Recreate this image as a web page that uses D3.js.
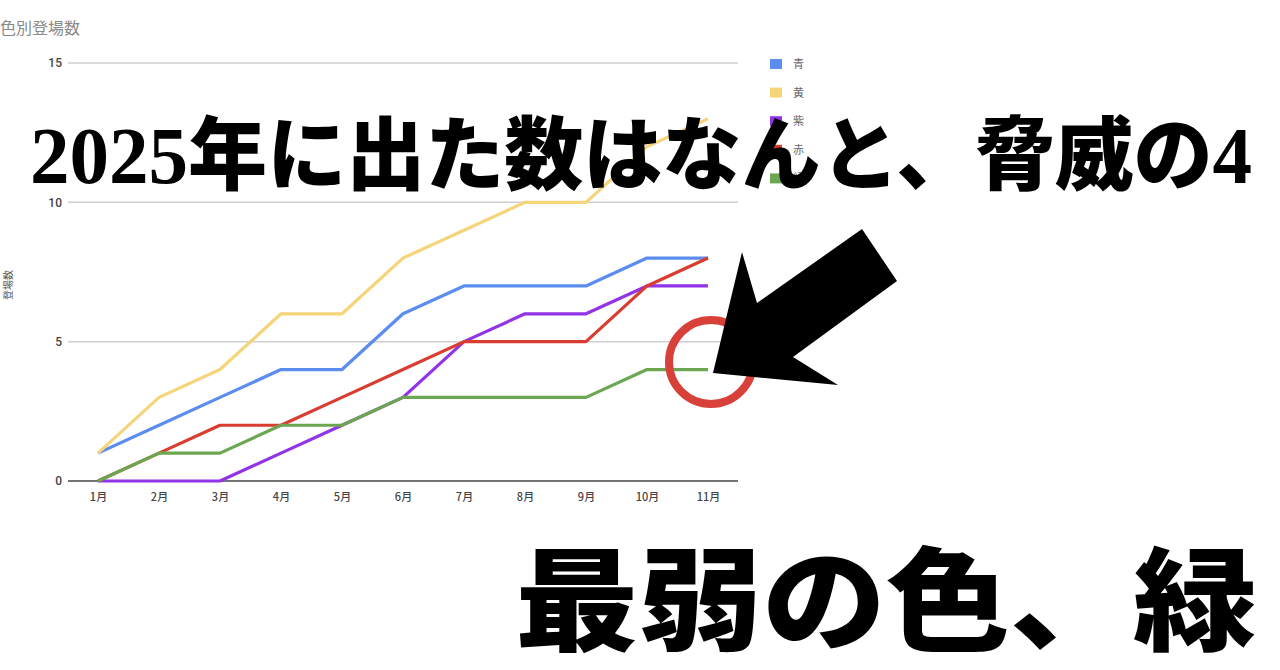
<!DOCTYPE html>
<html>
<head>
<meta charset="utf-8">
<script src="https://cdn.jsdelivr.net/npm/d3@7"></script>
<style>
  html, body { margin: 0; padding: 0; background: #fff; }
  svg { display: block; }
</style>
</head>
<body>
<svg id="chart"></svg>
<script>
const months = ["1月", "2月", "3月", "4月", "5月", "6月", "7月", "8月", "9月", "10月", "11月"];
const seriesNames = ["青", "黄", "紫", "赤", "緑"];
const seriesColors = ["#5b8def", "#f5d47a", "#9133e6", "#d93c30", "#6ca650"];
const blue   = [1, 2, 3, 4, 4, 6, 7, 7, 7, 8, 8];
const yellow = [1, 3, 4, 6, 6, 8, 9, 10, 10, 12, 13];
const purple = [0, 0, 0, 1, 2, 3, 5, 6, 6, 7, 7];
const red    = [0, 1, 2, 2, 3, 4, 5, 5, 5, 7, 8];
const green  = [0, 1, 1, 2, 2, 3, 3, 3, 3, 4, 4];
const yTicks = [0, 5, 10, 15];

function main() {
  const width = 1280, height = 670;
  const svg = d3.select("#chart").attr("width", width).attr("height", height);

  const series = [blue, yellow, purple, red, green].map((vals, i) => ({
    name: seriesNames[i], color: seriesColors[i], values: vals
  }));

  const x = d3.scalePoint().domain(months).range([98, 708]);
  const y = d3.scaleLinear().domain([0, 15]).range([481, 63]);

  // chart title
  svg.append("text")
    .attr("x", 0).attr("y", 34)
    .attr("font-family", "Noto Sans CJK JP")
    .attr("font-size", 16)
    .attr("fill", "#8a8a8a")
    .text("色別登場数");

  // grid
  svg.append("g")
    .selectAll("line")
    .data(yTicks.filter(d => d > 0))
    .join("line")
      .attr("x1", 68).attr("x2", 738)
      .attr("y1", d => y(d)).attr("y2", d => y(d))
      .attr("stroke", "#cfcfcf").attr("stroke-width", 1.5);

  const yAxis = svg.append("g")
    .attr("transform", "translate(62,0)")
    .call(d3.axisLeft(y).tickValues(yTicks).tickSize(0).tickPadding(0));
  yAxis.select(".domain").remove();
  yAxis.selectAll("text")
    .attr("font-family", "Roboto, Arial, sans-serif")
    .attr("font-size", 12).attr("font-weight", 500)
    .attr("fill", "#444");

  // baseline
  svg.append("line")
    .attr("x1", 68).attr("x2", 738)
    .attr("y1", y(0)).attr("y2", y(0))
    .attr("stroke", "#444").attr("stroke-width", 1.5);

  const xAxis = svg.append("g")
    .attr("transform", `translate(0,${y(0) + 10})`)
    .call(d3.axisBottom(x).tickSize(0).tickPadding(0));
  xAxis.select(".domain").remove();
  xAxis.selectAll("text")
    .attr("dy", "0.9em")
    .attr("font-family", "Noto Sans CJK JP")
    .attr("font-size", 11).attr("font-weight", 500)
    .attr("fill", "#444");

  // y axis title
  svg.append("text")
    .attr("transform", "translate(12,285) rotate(-90)")
    .attr("text-anchor", "middle")
    .attr("font-family", "Noto Sans CJK JP")
    .attr("font-size", 10)
    .attr("fill", "#555")
    .text("登場数");

  // lines
  const line = d3.line()
    .x((d, i) => x(months[i]))
    .y(d => y(d));

  svg.append("g")
    .selectAll("path")
    .data(series)
    .join("path")
      .attr("d", d => line(d.values))
      .attr("fill", "none")
      .attr("stroke", d => d.color)
      .attr("stroke-width", 3.2)
      .attr("stroke-linejoin", "round");

  // legend
  const legend = svg.append("g")
    .selectAll("g")
    .data(series)
    .join("g")
      .attr("transform", (d, i) => `translate(770,${64 + i * 28.6})`);
  legend.append("rect")
    .attr("x", 0).attr("y", -5)
    .attr("width", 12).attr("height", 10)
    .attr("fill", d => d.color);
  legend.append("text")
    .attr("x", 23).attr("y", 4)
    .attr("font-family", "Noto Sans CJK JP")
    .attr("font-size", 11)
    .attr("fill", "#666")
    .text(d => d.name);

  // red circle marking green's end
  svg.append("circle")
    .attr("cx", 711).attr("cy", 362).attr("r", 42)
    .attr("fill", "none")
    .attr("stroke", "#d7413a").attr("stroke-width", 8);

  // arrow
  const arrowPts = [[713,373],[742,252],[757,303],[862,229],[897,281],[793,357],[838,385]];
  svg.append("path")
    .attr("d", d3.line()(arrowPts) + "Z")
    .attr("fill", "#000");

  // overlay captions
  svg.append("text")
    .attr("x", 30).attr("y", 183)
    .attr("textLength", 1222)
    .attr("lengthAdjust", "spacingAndGlyphs")
    .attr("font-family", "'Liberation Serif', 'Noto Sans CJK JP', serif")
    .attr("font-size", 80)
    .attr("font-weight", 900)
    .attr("fill", "#000")
    .text("2025年に出た数はなんと、脅威の4");

  svg.append("text")
    .attr("x", 515).attr("y", 642)
    .attr("textLength", 742)
    .attr("lengthAdjust", "spacingAndGlyphs")
    .attr("font-family", "'Noto Sans CJK JP', sans-serif")
    .attr("font-size", 112)
    .attr("font-weight", 900)
    .attr("fill", "#000")
    .text("最弱の色、緑");
}

window.addEventListener("load", main);
</script>
</body>
</html>
